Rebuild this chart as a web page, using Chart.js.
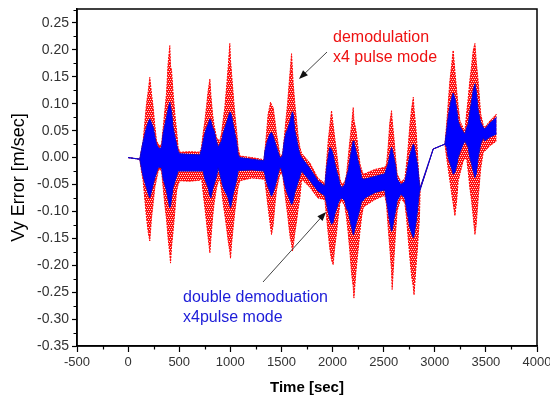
<!DOCTYPE html>
<html>
<head>
<meta charset="utf-8">
<script src="https://cdn.jsdelivr.net/npm/chart.js@4.4.1/dist/chart.umd.min.js"></script>
<style>
  html, body { margin: 0; padding: 0; background: #ffffff; }
  #wrap { width: 550px; height: 402px; position: relative; }
</style>
</head>
<body>
<div id="wrap"><canvas id="vyChart"></canvas></div>
<script>
// time axis (sec) of the envelope samples
const timeSec = [
  0, 114, 131, 147, 180, 198, 212, 229, 245, 261, 278, 294, 310,
  327, 343, 359, 376, 391, 408, 415, 425, 440, 457, 474, 489, 506,
  603, 702,
  718, 734, 751, 767, 783, 800, 810, 826, 841, 865, 881, 897,
  914, 930, 946, 963, 979, 995, 1002, 1012, 1027, 1044, 1061, 1076, 1093,
  1210, 1328,
  1338, 1354, 1370, 1386, 1393, 1403, 1419, 1435, 1452, 1468, 1484, 1497,
  1511, 1527, 1543, 1560, 1575, 1587, 1599, 1608, 1615, 1631, 1648, 1663, 1680, 1697,
  1778, 1856, 1925,
  1941, 1957, 1974, 1990, 2006, 2022, 2039, 2055, 2072, 2091, 2120,
  2137, 2153, 2169, 2186, 2202, 2209, 2229, 2248, 2268, 2284, 2300,
  2316, 2414, 2511,
  2528, 2544, 2560, 2577, 2583, 2600, 2616, 2632,
  2668, 2707,
  2724, 2740, 2757, 2773, 2790, 2797, 2817, 2830, 2840, 2850, 2857,
  2985, 3099,
  3116, 3131, 3148, 3164, 3180, 3197, 3214, 3229, 3246, 3278, 3295,
  3311, 3327, 3343, 3360, 3376, 3393, 3405, 3425, 3449, 3474,
  3490, 3539, 3605
];

// demodulation x4 pulse mode (red) - upper / lower envelope
const redHigh = [
  0, -0.003, 0.015, 0.031, 0.100, 0.125, 0.149, 0.118, 0.093, 0.060, 0.031, 0.025, 0.022,
  0.025, 0.055, 0.087, 0.120, 0.174, 0.208, 0.170, 0.162, 0.120, 0.081, 0.050, 0.019, 0.010,
  0.011, 0.010,
  0.019, 0.045, 0.068, 0.095, 0.124, 0.146, 0.115, 0.081, 0.060, 0.037, 0.033, 0.031,
  0.045, 0.070, 0.093, 0.130, 0.168, 0.212, 0.180, 0.156, 0.120, 0.081, 0.050, 0.019, 0.003,
  0.000, -0.004,
  0.012, 0.045, 0.081, 0.095, 0.103, 0.098, 0.093, 0.070, 0.044, 0.025, 0.006, 0.004,
  0.006, 0.035, 0.068, 0.100, 0.137, 0.165, 0.193, 0.160, 0.137, 0.100, 0.068, 0.040, 0.019, 0.008,
  -0.010, -0.038, -0.048,
  -0.010, 0.030, 0.060, 0.087, 0.060, 0.035, 0.010, -0.015, -0.040, -0.050, -0.045,
  -0.031, 0.000, 0.031, 0.060, 0.093, 0.070, 0.050, 0.020, -0.012, -0.022, -0.031,
  -0.030, -0.022, -0.018,
  -0.012, 0.020, 0.065, 0.087, 0.070, 0.037, 0.000, -0.031,
  -0.045, -0.040,
  -0.012, 0.020, 0.062, 0.090, 0.112, 0.090, 0.050, 0.010, -0.025, -0.045, -0.056,
  0.016, 0.025,
  0.062, 0.100, 0.143, 0.170, 0.199, 0.160, 0.124, 0.095, 0.068, 0.055, 0.050,
  0.081, 0.110, 0.143, 0.170, 0.199, 0.212, 0.180, 0.140, 0.081, 0.060,
  0.056, 0.068, 0.081
];
const redLow = [
  0, -0.003, -0.025, -0.043, -0.112, -0.140, -0.155, -0.112, -0.085, -0.056, -0.040, -0.025, -0.022,
  -0.025, -0.056, -0.087, -0.115, -0.149, -0.180, -0.196, -0.165, -0.137, -0.100, -0.062, -0.050, -0.043,
  -0.044, -0.042,
  -0.037, -0.065, -0.093, -0.120, -0.149, -0.177, -0.150, -0.112, -0.085, -0.056, -0.045, -0.040,
  -0.060, -0.085, -0.106, -0.130, -0.155, -0.175, -0.187, -0.160, -0.131, -0.100, -0.075, -0.055, -0.043,
  -0.038, -0.040,
  -0.043, -0.068, -0.093, -0.118, -0.128, -0.143, -0.125, -0.090, -0.060, -0.045, -0.031, -0.030,
  -0.031, -0.055, -0.081, -0.105, -0.131, -0.150, -0.160, -0.174, -0.165, -0.140, -0.118, -0.095, -0.075, -0.040,
  -0.055, -0.075, -0.078,
  -0.110, -0.140, -0.170, -0.190, -0.199, -0.165, -0.140, -0.110, -0.085, -0.080, -0.090,
  -0.112, -0.140, -0.174, -0.215, -0.240, -0.261, -0.211, -0.175, -0.137, -0.110, -0.093,
  -0.090, -0.078, -0.070,
  -0.087, -0.130, -0.168, -0.210, -0.245, -0.190, -0.140, -0.099,
  -0.075, -0.085,
  -0.112, -0.150, -0.187, -0.220, -0.240, -0.255, -0.200, -0.170, -0.140, -0.112, -0.060,
  0.016, 0.025,
  0.000, -0.020, -0.043, -0.065, -0.085, -0.108, -0.080, -0.043, -0.030, -0.006, -0.003,
  0.000, -0.025, -0.056, -0.080, -0.110, -0.143, -0.125, -0.075, -0.020, 0.010,
  0.012, 0.022, 0.031
];

// double demodulation x4 pulse mode (blue) - upper / lower envelope
const blueHigh = [
  0, -0.003, 0.015, 0.030, 0.056, 0.066, 0.072, 0.064, 0.056, 0.040, 0.025, 0.019, 0.017,
  0.019, 0.045, 0.060, 0.075, 0.090, 0.103, 0.095, 0.085, 0.056, 0.040, 0.025, 0.012, 0.007,
  0.006, 0.005,
  0.015, 0.031, 0.045, 0.055, 0.062, 0.072, 0.068, 0.056, 0.050, 0.030, 0.019, 0.025,
  0.031, 0.045, 0.055, 0.065, 0.075, 0.084, 0.084, 0.078, 0.062, 0.045, 0.030, 0.006, 0.000,
  -0.003, -0.006,
  0.012, 0.025, 0.035, 0.044, 0.045, 0.047, 0.040, 0.030, 0.019, 0.010, 0.000, 0.000,
  0.005, 0.030, 0.045, 0.052, 0.062, 0.070, 0.080, 0.085, 0.080, 0.050, 0.035, 0.020, 0.006, 0.000,
  -0.020, -0.043, -0.053,
  -0.020, 0.000, 0.019, 0.015, 0.005, -0.010, -0.025, -0.035, -0.050, -0.056, -0.050,
  -0.035, -0.025, -0.005, 0.015, 0.031, 0.028, 0.012, -0.005, -0.020, -0.037, -0.040,
  -0.040, -0.035, -0.030,
  -0.020, -0.012, 0.005, 0.019, 0.015, 0.000, -0.015, -0.040,
  -0.050, -0.045,
  -0.030, -0.012, 0.005, 0.015, 0.025, 0.022, 0.000, -0.012, -0.030, -0.050, -0.056,
  0.016, 0.025,
  0.050, 0.075, 0.095, 0.110, 0.120, 0.110, 0.090, 0.068, 0.058, 0.048, 0.044,
  0.055, 0.062, 0.085, 0.105, 0.125, 0.137, 0.124, 0.087, 0.065, 0.056,
  0.053, 0.064, 0.075
];
const blueLow = [
  0, -0.003, -0.020, -0.035, -0.056, -0.068, -0.075, -0.062, -0.050, -0.038, -0.028, -0.019, -0.018,
  -0.019, -0.040, -0.050, -0.062, -0.078, -0.093, -0.090, -0.075, -0.056, -0.045, -0.035, -0.025, -0.025,
  -0.025, -0.025,
  -0.025, -0.025, -0.040, -0.048, -0.056, -0.070, -0.075, -0.060, -0.050, -0.035, -0.019, -0.030,
  -0.043, -0.055, -0.062, -0.068, -0.075, -0.088, -0.093, -0.085, -0.068, -0.055, -0.042, -0.025, -0.024,
  -0.023, -0.025,
  -0.031, -0.045, -0.055, -0.062, -0.068, -0.072, -0.065, -0.055, -0.043, -0.030, -0.019, -0.020,
  -0.030, -0.045, -0.058, -0.068, -0.075, -0.082, -0.087, -0.085, -0.080, -0.065, -0.055, -0.045, -0.035, -0.025,
  -0.043, -0.062, -0.071,
  -0.085, -0.100, -0.115, -0.124, -0.120, -0.105, -0.095, -0.085, -0.078, -0.075, -0.080,
  -0.095, -0.099, -0.115, -0.130, -0.143, -0.140, -0.124, -0.110, -0.095, -0.081, -0.080,
  -0.075, -0.065, -0.060,
  -0.080, -0.099, -0.120, -0.137, -0.135, -0.115, -0.099, -0.080,
  -0.068, -0.075,
  -0.095, -0.112, -0.130, -0.140, -0.149, -0.145, -0.120, -0.099, -0.080, -0.065, -0.060,
  0.016, 0.025,
  0.019, 0.000, -0.010, -0.020, -0.031, -0.028, -0.015, 0.000, 0.010, 0.025, 0.031,
  0.025, 0.019, 0.000, -0.012, -0.025, -0.037, -0.031, 0.000, 0.025, 0.037,
  0.031, 0.038, 0.044
];

// axis ticks
const xMajorTicks = [-500, 0, 500, 1000, 1500, 2000, 2500, 3000, 3500, 4000];
const xMinorTicks = [-250, 250, 750, 1250, 1750, 2250, 2750, 3250, 3750];
const yMajorTicks = [-0.35, -0.30, -0.25, -0.20, -0.15, -0.10, -0.05, 0, 0.05, 0.10, 0.15, 0.20, 0.25];
const yMinorTicks = [-0.325, -0.275, -0.225, -0.175, -0.125, -0.075, -0.025, 0.025, 0.075, 0.125, 0.175, 0.225, 0.275];

const FONT = "Arial, 'Liberation Sans', sans-serif";

function pairs(values) {
    return timeSec.map((t, i) => ({ x: t, y: values[i] }));
}

// red dotted texture like the original trace (short vertical dashes)
function makeRedTexture() {
    const c = document.createElement('canvas');
    c.width = 2;
    c.height = 4;
    const g = c.getContext('2d');
    g.fillStyle = '#ff1010';
    g.fillRect(0, 0, 2, 4);
    g.fillStyle = '#ffd8d8';
    g.fillRect(0, 3, 1, 1);
    g.fillRect(1, 1, 1, 1);
    return g.createPattern(c, 'repeat');
}

function drawArrow(ctx, x1, y1, x2, y2) {
    const ang = Math.atan2(y2 - y1, x2 - x1);
    const len = 9, half = 3.5;
    ctx.strokeStyle = '#444';
    ctx.lineWidth = 1;
    ctx.beginPath();
    ctx.moveTo(x1, y1);
    ctx.lineTo(x2 - Math.cos(ang) * len * 0.8, y2 - Math.sin(ang) * len * 0.8);
    ctx.stroke();
    ctx.fillStyle = '#111';
    ctx.beginPath();
    ctx.moveTo(x2, y2);
    ctx.lineTo(x2 - Math.cos(ang) * len - Math.sin(ang) * half, y2 - Math.sin(ang) * len + Math.cos(ang) * half);
    ctx.lineTo(x2 - Math.cos(ang) * len + Math.sin(ang) * half, y2 - Math.sin(ang) * len - Math.cos(ang) * half);
    ctx.closePath();
    ctx.fill();
}

// frame, minor ticks and the two notes
const decorPlugin = {
    id: 'decor',
    afterDraw(chart) {
        const { ctx, chartArea: a, scales } = chart;
        ctx.save();
        ctx.strokeStyle = '#000';
        ctx.lineWidth = 1.5;
        ctx.strokeRect(a.left, a.top, a.right - a.left, a.bottom - a.top);

        ctx.lineWidth = 1.2;
        ctx.beginPath();
        xMinorTicks.forEach(v => {
            const px = Math.round(scales.x.getPixelForValue(v)) + 0.5;
            ctx.moveTo(px, a.bottom);
            ctx.lineTo(px, a.bottom + 3.5);
        });
        yMinorTicks.forEach(v => {
            const py = Math.round(scales.y.getPixelForValue(v)) + 0.5;
            if (py < a.top) return;
            ctx.moveTo(a.left, py);
            ctx.lineTo(a.left - 3.5, py);
        });
        ctx.stroke();

        ctx.font = '16px ' + FONT;
        ctx.textAlign = 'left';
        ctx.textBaseline = 'alphabetic';
        ctx.fillStyle = '#ee1111';
        ctx.fillText('demodulation', 333, 42);
        ctx.fillText('x4 pulse mode', 333, 62);
        ctx.fillStyle = '#1c1cd8';
        ctx.fillText('double demoduation', 183, 302);
        ctx.fillText('x4pulse mode', 183, 322);

        drawArrow(ctx, 327, 52, 299, 79);
        drawArrow(ctx, 263, 282, 326, 212);
        ctx.restore();
    }
};

const ctx = document.getElementById('vyChart').getContext('2d');
const redTexture = makeRedTexture();

new Chart(ctx, {
    type: 'line',
    data: {
        datasets: [
            {
                label: 'blue high',
                data: pairs(blueHigh),
                borderColor: '#0a0ad0',
                borderWidth: 1,
                pointRadius: 0,
                fill: false,
                order: 1
            },
            {
                label: 'blue low',
                data: pairs(blueLow),
                borderColor: '#0a0ad0',
                backgroundColor: '#0000ff',
                borderWidth: 1,
                pointRadius: 0,
                fill: '-1',
                order: 1
            },
            {
                label: 'red high',
                data: pairs(redHigh),
                borderColor: '#ff0000',
                borderWidth: 1,
                borderDash: [2, 1],
                pointRadius: 0,
                fill: false,
                order: 2
            },
            {
                label: 'red low',
                data: pairs(redLow),
                borderColor: '#ff0000',
                backgroundColor: redTexture,
                borderWidth: 1,
                borderDash: [2, 1],
                pointRadius: 0,
                fill: '-1',
                order: 2
            }
        ]
    },
    options: {
        responsive: true,
        maintainAspectRatio: false,
        animation: false,
        events: [],
        layout: { padding: { top: 9, right: 13, left: 0, bottom: 0 } },
        plugins: {
            legend: { display: false },
            tooltip: { enabled: false }
        },
        scales: {
            x: {
                type: 'linear',
                min: -500,
                max: 4000,
                afterBuildTicks: (scale) => {
                    scale.ticks = xMajorTicks.map(v => ({ value: v }));
                },
                afterFit: (scale) => {
                    scale.height = 56;
                    scale.paddingLeft = 0;
                    scale.paddingRight = 0;
                },
                grid: {
                    drawOnChartArea: false,
                    drawTicks: true,
                    tickLength: 6,
                    tickWidth: 1.2,
                    tickColor: '#000'
                },
                border: { display: true, color: '#000', width: 1.5 },
                ticks: {
                    color: '#333',
                    padding: 3,
                    maxRotation: 0,
                    autoSkip: false,
                    font: { size: 13, family: FONT },
                    callback: (v) => String(v)
                },
                title: {
                    display: true,
                    text: 'Time [sec]',
                    color: '#000',
                    font: { size: 15, weight: 'bold', family: FONT },
                    padding: { top: 0, bottom: 5 }
                }
            },
            y: {
                type: 'linear',
                min: -0.35,
                max: 0.276,
                afterBuildTicks: (scale) => {
                    scale.ticks = yMajorTicks.map(v => ({ value: v }));
                },
                afterFit: (scale) => {
                    scale.width = 77;
                    scale.paddingTop = 0;
                    scale.paddingBottom = 0;
                },
                grid: {
                    drawOnChartArea: false,
                    drawTicks: true,
                    tickLength: 5,
                    tickWidth: 1.2,
                    tickColor: '#000'
                },
                border: { display: true, color: '#000', width: 1.5 },
                ticks: {
                    color: '#333',
                    padding: 3,
                    autoSkip: false,
                    font: { size: 14, family: FONT },
                    callback: (v) => (Math.abs(v) < 1e-9 ? 0 : v).toFixed(2)
                },
                title: {
                    display: true,
                    text: 'Vy Error [m/sec]',
                    color: '#000',
                    font: { size: 18, family: FONT },
                    padding: { top: 8, bottom: 0 }
                }
            }
        }
    },
    plugins: [decorPlugin]
});
</script>
</body>
</html>
